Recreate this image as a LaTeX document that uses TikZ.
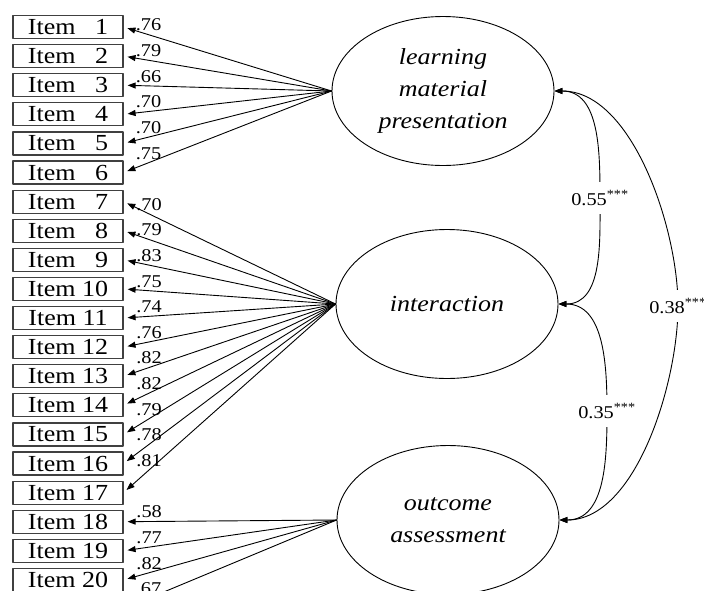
\documentclass[tikz,border=0pt]{standalone}
\usepackage{fontspec}
\setmainfont{Liberation Serif}[FakeStretch=1.13]
\usetikzlibrary{arrows.meta,shapes.geometric}
\tikzset{
	item/.style={draw=black!75, line width=1.2pt, minimum width=110pt, minimum height=23pt, inner sep=0pt, font=\fontsize{23pt}{25pt}\selectfont},
	factor/.style={draw, ellipse, minimum width=222pt, minimum height=149pt, inner sep=0pt, align=center, font=\fontsize{23pt}{32pt}\selectfont\itshape},
	load/.style={font=\fontsize{18pt}{20pt}\selectfont, inner sep=1pt, above=2pt, pos=0.88},
	corr/.style={font=\fontsize{18pt}{20pt}\selectfont, fill=white, inner xsep=1pt, inner ysep=9pt},
	path/.style={->, shorten >=4pt}
}
\begin{document}
\begin{tikzpicture}[x=1pt, y=-1pt, line width=0.9pt, line join=round, line cap=round, >={Triangle[length=8pt,width=6pt]}]
		\useasboundingbox (0,0) rectangle (704,590);
		\clip (0,0) rectangle (704,590);
		\coordinate (c55) at (600,198);
		\coordinate (c35) at (607,411);
		\coordinate (c38) at (678,306);
		\coordinate (i21) at (123,609);
		\node[factor] (lmp) at (443,91) {learning\\material\\presentation};
		\node[factor] (int) at (447,304) {interaction};
		\node[factor] (oa) at (448,520) {outcome\\assessment};
		\node[item] (i1) at (68,27) {Item\ \hphantom{0}1};
		\node[item] (i2) at (68,56.1) {Item\ \hphantom{0}2};
		\node[item] (i3) at (68,85.2) {Item\ \hphantom{0}3};
		\node[item] (i4) at (68,114.3) {Item\ \hphantom{0}4};
		\node[item] (i5) at (68,143.4) {Item\ \hphantom{0}5};
		\node[item] (i6) at (68,172.5) {Item\ \hphantom{0}6};
		\node[item] (i7) at (68,201.6) {Item\ \hphantom{0}7};
		\node[item] (i8) at (68,230.7) {Item\ \hphantom{0}8};
		\node[item] (i9) at (68,259.8) {Item\ \hphantom{0}9};
		\node[item] (i10) at (68,288.9) {Item 10};
		\node[item] (i11) at (68,318) {Item 11};
		\node[item] (i12) at (68,347.1) {Item 12};
		\node[item] (i13) at (68,376.2) {Item 13};
		\node[item] (i14) at (68,405.3) {Item 14};
		\node[item] (i15) at (68,434.4) {Item 15};
		\node[item] (i16) at (68,463.5) {Item 16};
		\node[item] (i17) at (68,492.6) {Item 17};
		\node[item] (i18) at (68,521.7) {Item 18};
		\node[item] (i19) at (68,550.8) {Item 19};
		\node[item] (i20) at (68,579.9) {Item 20};
		\draw[path] (lmp.west) -- (i1.east) node[load] {.76};
		\draw[path] (lmp.west) -- (i2.east) node[load] {.79};
		\draw[path] (lmp.west) -- (i3.east) node[load] {.66};
		\draw[path] (lmp.west) -- (i4.east) node[load] {.70};
		\draw[path] (lmp.west) -- (i5.east) node[load] {.70};
		\draw[path] (lmp.west) -- (i6.east) node[load] {.75};
		\draw[path] (int.west) -- (i7.east) node[load] {.70};
		\draw[path] (int.west) -- (i8.east) node[load] {.79};
		\draw[path] (int.west) -- (i9.east) node[load] {.83};
		\draw[path] (int.west) -- (i10.east) node[load] {.75};
		\draw[path] (int.west) -- (i11.east) node[load] {.74};
		\draw[path] (int.west) -- (i12.east) node[load] {.76};
		\draw[path] (int.west) -- (i13.east) node[load] {.82};
		\draw[path] (int.west) -- (i14.east) node[load] {.82};
		\draw[path] (int.west) -- (i15.east) node[load] {.79};
		\draw[path] (int.west) -- (i16.east) node[load] {.78};
		\draw[path] (int.west) -- (i17.east) node[load] {.81};
		\draw[path] (oa.west) -- (i18.east) node[load] {.58};
		\draw[path] (oa.west) -- (i19.east) node[load] {.77};
		\draw[path] (oa.west) -- (i20.east) node[load] {.82};
		\draw[path] (oa.west) -- (i21) node[load] {.67};
		\draw[<->] (lmp.east) to[out=0, in=90] (c55) node[corr] {0.55\textsuperscript{***}} to[out=-90, in=0] (int.east);
		\draw[<->] (int.east) to[out=0, in=90] (c35) node[corr] {0.35\textsuperscript{***}} to[out=-90, in=0] (oa.east);
		\draw[<->] (lmp.east) to[out=0, in=90, looseness=0.8] (c38) node[corr] {0.38\textsuperscript{***}} to[out=-90, in=0, looseness=0.8] (oa.east);
	\end{tikzpicture}
\end{document}
